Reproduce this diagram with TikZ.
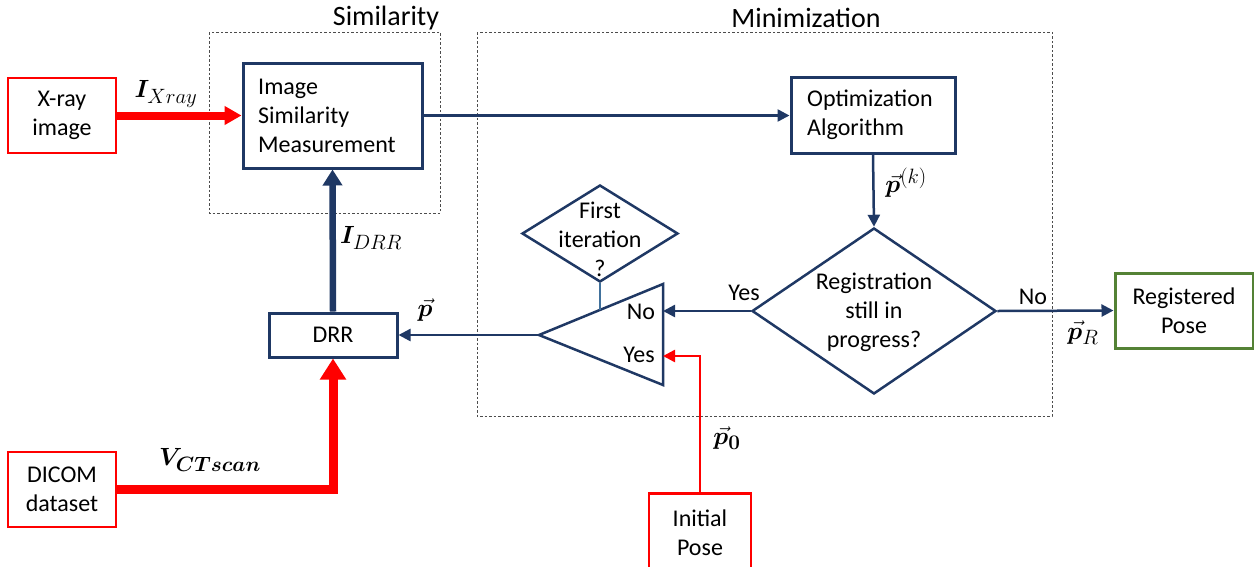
\documentclass[tikz,border=0pt]{standalone}
\usepackage{amsmath,bm}
\usepackage{fontspec}
\setmainfont{Carlito}
\usetikzlibrary{arrows.meta,shapes.geometric}
\DeclareMathSizes{27}{27}{20}{15}
\definecolor{navy}{HTML}{1F3864}
\definecolor{pred}{HTML}{FF0000}
\definecolor{pgreen}{HTML}{548235}
\definecolor{steel}{HTML}{41719C}
\begin{document}
\begin{tikzpicture}[x=1pt,y=-1pt,
  font=\fontsize{24}{29}\selectfont,
  navybox/.style={draw=navy, line width=3pt, inner sep=0pt},
  redbox/.style={draw=pred, line width=2.5pt, inner sep=0pt, align=center},
  greenbox/.style={draw=pgreen, line width=3pt, inner sep=0pt, align=center},
  dia/.style={diamond, draw=navy, line width=2.5pt, inner sep=0pt},
  frame/.style={draw=black!70, line width=1pt, dash pattern=on 2.5pt off 2pt},
  thinarrow/.style={draw=navy, line width=2.5pt, -{Triangle[length=12pt,width=12pt]}},
  redarrow/.style={draw=pred, line width=8pt, -{Triangle[length=17pt,width=18pt]}},
  redthin/.style={draw=pred, line width=2.5pt, -{Triangle[length=12pt,width=12pt]}},
  mathlbl/.style={font=\fontsize{27}{30}\selectfont, inner sep=0pt},
  lbl/.style={inner sep=0pt},
  title/.style={font=\fontsize{28}{32}\selectfont, inner sep=0pt}
]
\useasboundingbox (0,0) rectangle (1254,566);

% frames
\draw[frame] (209,32) rectangle (440,213);
\draw[frame] (477,32) rectangle (1052,416);
\node[title] (simtitle) at (386,18) {Similarity};
\node[title] (mintitle) at (806,18) {Minimization};

% boxes
\node[redbox, minimum width=108pt, minimum height=75pt] (xray) at (62,115.5) {X-ray\\image};
\node[navybox, minimum width=179pt, minimum height=105pt] (sim) at (332.5,115.5) {};
\node[lbl, anchor=west, align=left] (simtext) at (258,115.5) {Image\\Similarity\\Measurement};
\node[navybox, minimum width=164pt, minimum height=76pt] (opt) at (873,115) {};
\node[lbl, anchor=west, align=left] (opttext) at (807,115) {Optimization\\Algorithm};
\node[dia, minimum width=244pt, minimum height=166pt] (reg) at (874,311) {};
\node[lbl, align=center] (regtext) at (874,312) {Registration\\still in\\progress?};
\node[greenbox, minimum width=138pt, minimum height=75pt] (regpose) at (1184,310.5) {Registered\\Pose};
\node[dia, minimum width=156pt, minimum height=97pt] (first) at (600,233.5) {};
\node[lbl, align=center] (firsttext) at (600,239) {First\\iteration\\?};
\node[draw=navy, line width=3pt, inner sep=0pt, minimum width=128pt, minimum height=44pt] (drr) at (333,335) {DRR};
\node[redbox, minimum width=108pt, minimum height=75pt] (dicom) at (62,489.5) {DICOM\\dataset};
\node[redbox, minimum width=102pt, minimum height=78pt, anchor=north] (init) at (700,492) {Initial\\Pose};

% triangle (switch)
\coordinate (tA) at (539,335);
\coordinate (tB) at (663,284);
\coordinate (tC) at (663,385);
\coordinate (tNo) at (663,311);
\coordinate (tYes) at (663,356);
\coordinate (tTop) at (600,309.9);
\draw[draw=navy, line width=2.5pt, line join=miter] (tA) -- (tB) -- (tC) -- cycle;
\node[lbl] (notxt) at (641,312) {No};
\node[lbl] (yestxt) at (639,355) {Yes};

% connectors
\draw[redarrow] (xray.east) -- (sim.west);
\draw[thinarrow] (sim.east) -- (sim.east -| opt.west);
\draw[thinarrow] (opt.south) -- (reg.north);
\draw[thinarrow] (reg.east) -- (regpose.west);
\draw[thinarrow] (reg.west) -- (tNo);
\draw[thinarrow] (tA) -- (tA -| drr.east);
\draw[draw=navy, line width=6.5pt, -{Triangle[length=16pt,width=19pt]}] (drr.north) -- (sim.south);
\draw[draw=pred, line width=9pt, -{Triangle[length=21pt,width=25pt]}] (dicom.east) -| (drr.south);
\draw[redthin] (init.north) |- (tYes);
\draw[draw=steel, line width=2.5pt] (first.south) -- (tTop);

% labels
\node[mathlbl] (lx) at (166,94) {$\boldsymbol{I}_{Xray}$};
\node[mathlbl] (ld) at (371,238) {$\boldsymbol{I}_{DRR}$};
\node[mathlbl] (lp) at (425,310) {$\vec{\boldsymbol{p}}$};
\node[mathlbl] (lk) at (906,183) {$\vec{\boldsymbol{p}}^{(k)}$};
\node[mathlbl] (lr) at (1083,333) {$\vec{\boldsymbol{p}}_{R}$};
\node[mathlbl] (l0) at (727,438) {$\vec{\boldsymbol{p}}_{\boldsymbol{0}}$};
\node[mathlbl] (lv) at (210,460) {$\boldsymbol{V}_{\boldsymbol{CTscan}}$};
\node[lbl] (yes1) at (744,293) {Yes};
\node[lbl] (no1) at (1033,297) {No};
\end{tikzpicture}
\end{document}
